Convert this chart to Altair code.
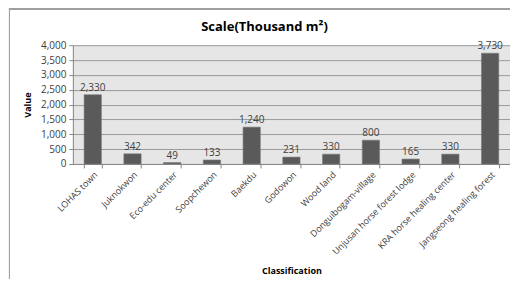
import altair as alt
import pandas as pd

categories = ["LOHAS town", "Juknokwon", "Eco-edu center", "Soopchewon", "Baekdu",
              "Godowon", "Wood land", "Donguibogam-village", "Unjusan horse forest lodge",
              "KRA horse healing center", "Jangseong healing forest"]
values = [2330, 342, 49, 133, 1240, 231, 330, 800, 165, 330, 3730]
y_ticks = [0, 500, 1000, 1500, 2000, 2500, 3000, 3500, 4000]

df = pd.DataFrame({"Classification": categories, "Value": values})

FONT = "Open Sans"

x = alt.X("Classification:N", sort=categories,
          scale=alt.Scale(paddingInner=0.565, paddingOuter=0.283),
          axis=alt.Axis(title="Classification", labelAngle=-45, labelFontSize=9,
                        labelColor="#404040", tickBand="extent", tickSize=4,
                        tickColor="#868686", domainColor="#868686",
                        titleFontSize=9, titleFontWeight="bold", titleColor="#000000",
                        titlePadding=10, labelPadding=2))
y = alt.Y("Value:Q", scale=alt.Scale(domain=[0, 4000], nice=False),
          axis=alt.Axis(title="Value", values=y_ticks, format=",.0f", labelFontSize=10,
                        labelColor="#404040", tickSize=4, tickColor="#868686",
                        domainColor="#868686", gridColor="#9a9a9a",
                        titleFontSize=9, titleFontWeight="bold", titleColor="#000000",
                        titlePadding=8, labelPadding=3))

bars = alt.Chart(df).mark_bar(color="#5a5a5a", stroke="#7a7a7a", strokeWidth=0.6).encode(x=x, y=y)
labels = alt.Chart(df).mark_text(dy=-7, fontSize=10, color="#404040", font=FONT).encode(
    x=x, y=y, text=alt.Text("Value:Q", format=","))

frame_top = alt.Chart(df).mark_rule(color="#a0a0a0", strokeWidth=1).encode(
    x=alt.value(-64), x2=alt.value(460), y=alt.value(-36.5))
frame_left = alt.Chart(df).mark_rule(color="#a0a0a0", strokeWidth=1).encode(
    x=alt.value(-63.5), y=alt.value(-37), y2=alt.value(300))

chart = alt.layer(bars, labels, frame_top, frame_left).properties(
    width=438, height=119,
    title=alt.TitleParams("Scale(Thousand m²)", fontSize=13, fontWeight="bold",
                          font=FONT, color="#000000", offset=-26, frame="group", dx=-27),
    autosize=alt.AutoSizeParams(type="none"),
    padding={"left": 65, "top": 37, "right": 0, "bottom": 115},
).configure(font=FONT).configure_view(fill="#e6e6e6", stroke=None)

chart.save("out.html", embed_options={"renderer": "svg", "actions": False})
